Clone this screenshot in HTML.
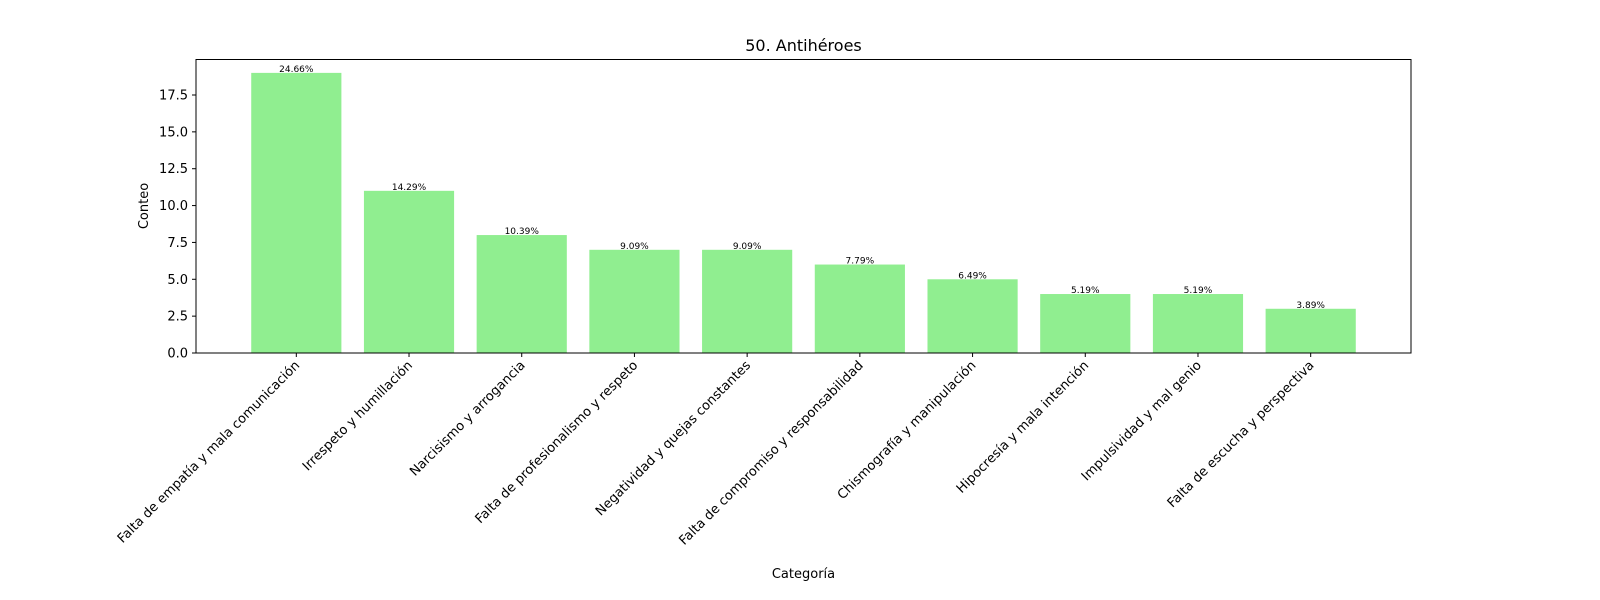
<!DOCTYPE html>
<html><head><meta charset="utf-8">
<style>
html,body{margin:0;padding:0;background:#fff;}
svg{display:block;font-family:"DejaVu Sans","Liberation Sans",sans-serif;}
</style></head>
<body>
<svg id="chart" width="1600" height="600" viewBox="0 0 1600 600" xmlns="http://www.w3.org/2000/svg">
<text x="803.5" y="51" font-size="16" text-anchor="middle" fill="#000">50. Antihéroes</text>
<text x="803.5" y="578" font-size="13" text-anchor="middle" fill="#000">Categoría</text>
<text transform="translate(148,206) rotate(-90)" font-size="13" text-anchor="middle" fill="#000">Conteo</text>
<g id="bars"></g>
<g id="yticks"></g>
<g id="xticks"></g>
<rect x="196" y="59.5" width="1215" height="293.5" fill="none" stroke="#000" stroke-width="1"/>
</svg>
<script>
const categories = ["Falta de empatía y mala comunicación","Irrespeto y humillación","Narcisismo y arrogancia","Falta de profesionalismo y respeto","Negatividad y quejas constantes","Falta de compromiso y responsabilidad","Chismografía y manipulación","Hipocresía y mala intención","Impulsividad y mal genio","Falta de escucha y perspectiva"];
const counts = [19, 11, 8, 7, 7, 6, 5, 4, 4, 3];
const percentLabels = ["24.66%","14.29%","10.39%","9.09%","9.09%","7.79%","6.49%","5.19%","5.19%","3.89%"];
const yTicks = [0, 2.5, 5, 7.5, 10, 12.5, 15, 17.5];

const NS = "http://www.w3.org/2000/svg";
const left = 196, right = 1411, bottom = 353;
const n = categories.length;
const xMin = -0.89, xMax = (n - 1) + 0.89;
const xScale = v => left + (v - xMin) / (xMax - xMin) * (right - left);
const unit = (353 - 95) / 17.5;
const yScale = v => bottom - v * unit;
const barW = 0.8 * (xScale(1) - xScale(0));

const gb = document.getElementById('bars');
const gx = document.getElementById('xticks');
const gy = document.getElementById('yticks');

counts.forEach((c, i) => {
  const cx = xScale(i);
  const r = document.createElementNS(NS, 'rect');
  r.setAttribute('x', cx - barW / 2);
  r.setAttribute('y', yScale(c));
  r.setAttribute('width', barW);
  r.setAttribute('height', yScale(0) - yScale(c));
  r.setAttribute('fill', '#90ee90');
  
  
  gb.appendChild(r);

  const t = document.createElementNS(NS, 'text');
  t.setAttribute('x', cx);
  t.setAttribute('y', yScale(c) - 1);
  t.setAttribute('font-size', '9');
  t.setAttribute('text-anchor', 'middle');
  t.textContent = percentLabels[i];
  
  
  gb.appendChild(t);

  const tk = document.createElementNS(NS, 'line');
  tk.setAttribute('x1', cx); tk.setAttribute('x2', cx);
  tk.setAttribute('y1', bottom); tk.setAttribute('y2', bottom + 4);
  tk.setAttribute('stroke', '#000');
  
  
  gx.appendChild(tk);

  const lb = document.createElementNS(NS, 'text');
  lb.setAttribute('transform', 'translate(' + (cx + 4) + ',' + (bottom + 13) + ') rotate(-45)');
  lb.setAttribute('font-size', '13');
  lb.setAttribute('text-anchor', 'end');
  lb.textContent = categories[i];
  
  
  gx.appendChild(lb);
});

yTicks.forEach(v => {
  const y = yScale(v);
  const tk = document.createElementNS(NS, 'line');
  tk.setAttribute('x1', left - 4); tk.setAttribute('x2', left);
  tk.setAttribute('y1', y); tk.setAttribute('y2', y);
  tk.setAttribute('stroke', '#000');
  
  
  gy.appendChild(tk);
  const t = document.createElementNS(NS, 'text');
  t.setAttribute('x', left - 8);
  t.setAttribute('y', y + 4.5);
  t.setAttribute('font-size', '13');
  t.setAttribute('text-anchor', 'end');
  t.textContent = v.toFixed(1);
  
  
  gy.appendChild(t);
});
</script>
</body></html>
